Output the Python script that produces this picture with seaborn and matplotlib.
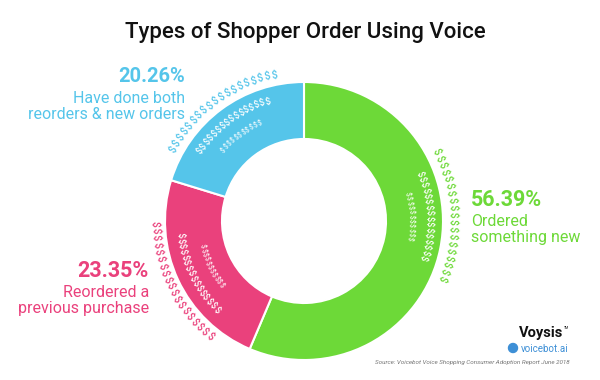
import matplotlib.pyplot as plt
import numpy as np
import seaborn as sns
from matplotlib.patches import Circle

# Data
categories = ["Ordered\nsomething new", "Reordered a\nprevious purchase",
              "Have done both\nreorders & new orders"]
shares = [56.39, 23.35, 20.26]
colors = ["#6dd938", "#ea417c", "#55c5ea"]

sns.set_theme(style="white")
plt.rcParams["font.family"] = ["Roboto", "DejaVu Sans"]

fig = plt.figure(figsize=(6, 3.8), dpi=100)
ax = fig.add_axes([0, 0, 1, 1])

# donut, in pixel-like coordinates (y up)
cx, cy, R = 304, 159, 139
wedges, _ = ax.pie(shares, colors=colors, startangle=90, counterclock=False,
                   radius=R, center=(cx, cy),
                   wedgeprops=dict(width=R * 0.41, edgecolor="white", linewidth=1.5))
ax.set_xlim(0, 600)
ax.set_ylim(0, 380)
ax.set_aspect("equal")
ax.axis("off")

# decorative "$" arcs: (radius, half span in deg, count, size, colour or None=wedge colour)
rings = [(149, 25, 19, 7.5, None), (125, 19.5, 16, 6.5, "white"), (106, 12, 11, 4.8, "white")]
offsets = [14, 1, 0]
for w, col, off in zip(wedges, colors, offsets):
    mid = (w.theta1 + w.theta2) / 2 + off
    mid = mid % 360
    clockwise = not (180 < mid < 270)
    for r, half, n, fs, c in rings:
        for t in np.linspace(mid + half, mid - half, n):
            a = np.radians(t)
            rot = t - 90 if clockwise else t + 90
            ax.text(cx + r * np.cos(a), cy + r * np.sin(a), "$", color=c or col,
                    fontsize=fs, fontweight="medium", rotation=rot,
                    rotation_mode="anchor", ha="center", va="center")

# labels
label_pos = [(471, 180, "left", 15.5), (149, 109, "right", 15.5), (185, 303, "right", 14.5)]
for (x, y, ha, pfs), cat, val, col in zip(label_pos, categories, shares, colors):
    ax.text(x, y, f"{val:.2f}%", color=col, fontsize=pfs, fontweight="semibold",
            ha=ha, va="center")
    ax.text(x, y - 14, cat, color=col, fontsize=11.5, ha=ha, va="top",
            linespacing=1.05)

ax.text(305, 342, "Types of Shopper Order Using Voice", fontsize=16,
        fontweight="medium", ha="center", va="baseline", color="#111111")

# logos and source
ax.text(563, 43, "Voysis", fontsize=10.5, fontweight="bold", ha="right",
        va="baseline", color="#111111")
ax.text(564, 51, "TM", fontsize=2.5, ha="left", va="baseline", color="#111111")
ax.text(568, 28, "voicebot.ai", fontsize=7, ha="right", va="baseline", color="#3d8fd6")
ax.add_patch(Circle((513, 32), 4.5, color="#3d8fd6"))
ax.text(570, 16, "Source: Voicebot Voice Shopping Consumer Adoption Report June 2018",
        fontsize=4.5, style="italic", ha="right", va="baseline", color="#777777")

fig.savefig("out.png", dpi=100)
